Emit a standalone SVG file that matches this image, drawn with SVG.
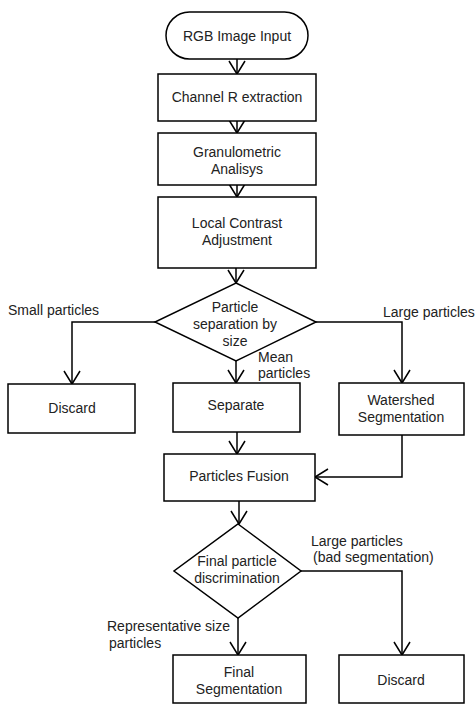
<svg xmlns="http://www.w3.org/2000/svg" width="475" height="704" viewBox="0 0 475 704">
<style>
.n{fill:#fff;stroke:#000;stroke-width:1.5}
.t{font-family:"Liberation Sans",Arial,sans-serif;font-size:14px;fill:#222}
.c{text-anchor:middle}
.e{fill:none;stroke:#000;stroke-width:1.5}
</style>
<defs>
<marker id="ar" markerUnits="userSpaceOnUse" markerWidth="16" markerHeight="20" viewBox="-1 -1 16 20" refX="13" refY="8" orient="auto">
<path d="M0,0 L13,8 L0,16" fill="none" stroke="#000" stroke-width="1.5"/>
</marker>
</defs>
<rect width="475" height="704" fill="#fff"/>
<g id="connectors" class="e">
<path d="M237,59 V74" marker-end="url(#ar)"/>
<path d="M237,121 V133" marker-end="url(#ar)"/>
<path d="M237,185 V197" marker-end="url(#ar)"/>
<path d="M236,268 V283" marker-end="url(#ar)"/>
<path d="M155,322 H72 V384" marker-end="url(#ar)"/>
<path d="M236,361 V383" marker-end="url(#ar)"/>
<path d="M316,322 H402 V383" marker-end="url(#ar)"/>
<path d="M237,432 V454" marker-end="url(#ar)"/>
<path d="M402,435 V477 H315" marker-end="url(#ar)"/>
<path d="M239,501 V524" marker-end="url(#ar)"/>
<path d="M301,571 H402 V655" marker-end="url(#ar)"/>
<path d="M238,618 V655" marker-end="url(#ar)"/>
</g>
<g id="start"><rect class="n" x="166" y="12" width="142" height="47" rx="23.5"/><text class="t c" x="237" y="41">RGB Image Input</text></g>
<g id="channel"><rect class="n" x="158" y="74" width="158" height="47"/><text class="t c" x="237" y="102">Channel R extraction</text></g>
<g id="granulometric"><rect class="n" x="158" y="133" width="158" height="52"/><text class="t c" x="237" y="157">Granulometric</text><text class="t c" x="237" y="174">Analisys</text></g>
<g id="contrast"><rect class="n" x="158" y="197" width="158" height="71"/><text class="t c" x="237" y="228">Local Contrast</text><text class="t c" x="237" y="245">Adjustment</text></g>
<g id="separation"><polygon class="n" points="236,283 316,322 236,361 155,322"/><text class="t c" x="235" y="312">Particle</text><text class="t c" x="235" y="329">separation by</text><text class="t c" x="235" y="346">size</text></g>
<g id="discard1"><rect class="n" x="8" y="384" width="127" height="49"/><text class="t c" x="72" y="413">Discard</text></g>
<g id="separate"><rect class="n" x="173" y="383" width="127" height="49"/><text class="t c" x="236" y="410">Separate</text></g>
<g id="watershed"><rect class="n" x="339" y="383" width="125" height="52"/><text class="t c" x="401" y="405">Watershed</text><text class="t c" x="401" y="422">Segmentation</text></g>
<g id="fusion"><rect class="n" x="164" y="454" width="151" height="47"/><text class="t c" x="239" y="481">Particles Fusion</text></g>
<g id="discrimination"><polygon class="n" points="238,524 301,571 238,618 174,571"/><text class="t c" x="237" y="566">Final particle</text><text class="t c" x="237" y="583">discrimination</text></g>
<g id="finalseg"><rect class="n" x="173" y="655" width="133" height="48"/><text class="t c" x="239" y="677">Final</text><text class="t c" x="239" y="694">Segmentation</text></g>
<g id="discard2"><rect class="n" x="339" y="655" width="125" height="48"/><text class="t c" x="401" y="685">Discard</text></g>
<g id="labels">
<text class="t" x="8" y="315">Small particles</text>
<text class="t" x="383" y="317">Large particles</text>
<text class="t" x="258" y="362">Mean</text>
<text class="t" x="258" y="378">particles</text>
<text class="t" x="311" y="546">Large particles</text>
<text class="t" x="313" y="562">(bad segmentation)</text>
<text class="t" x="107" y="631">Representative size</text>
<text class="t" x="109" y="648">particles</text>
</g>
</svg>
